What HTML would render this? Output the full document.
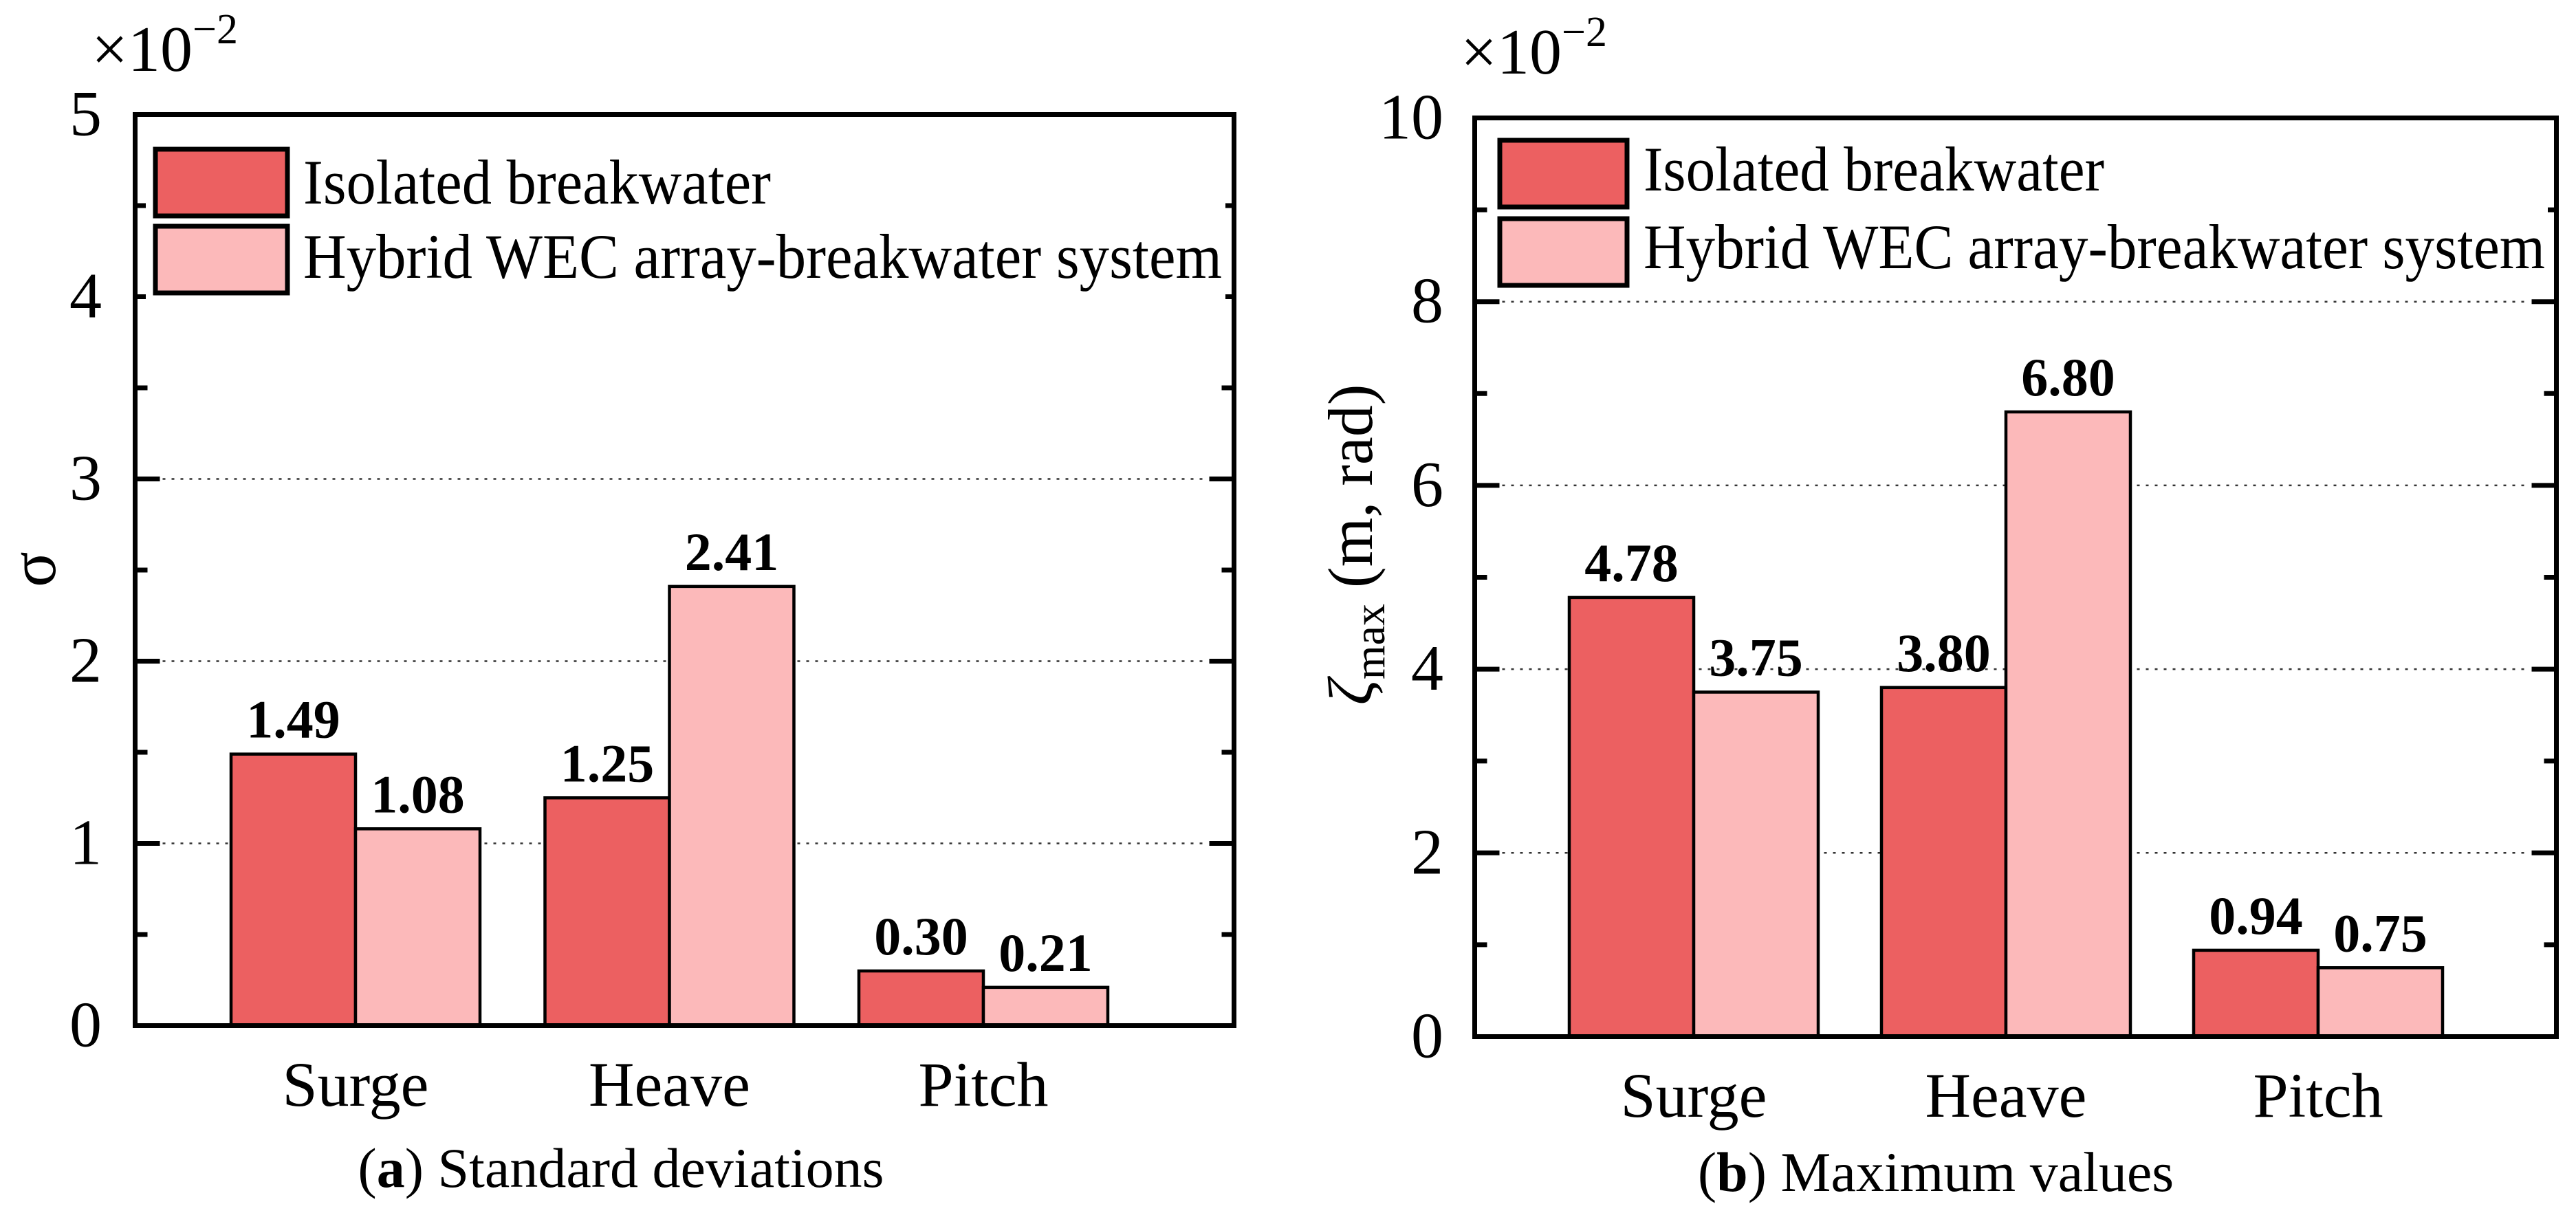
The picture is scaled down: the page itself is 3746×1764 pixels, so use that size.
<!DOCTYPE html>
<html><head><meta charset="utf-8"><style>
html,body{margin:0;padding:0;background:#fff;}
svg{display:block;}
text{font-family:"Liberation Serif","DejaVu Serif",serif;fill:#000;}
</style></head>
<body>
<svg id="fig" width="3746" height="1764" viewBox="0 0 3746 1764" xmlns="http://www.w3.org/2000/svg">
<g id="chartA"></g>
<g id="chartB"></g>
</svg>
<script>
const categories = ["Surge", "Heave", "Pitch"];
const seriesNames = ["Isolated breakwater", "Hybrid WEC array-breakwater system"];
const stdIsolated = [1.49, 1.25, 0.30];
const stdHybrid = [1.08, 2.41, 0.21];
const maxIsolated = [4.78, 3.80, 0.94];
const maxHybrid = [3.75, 6.80, 0.75];
const stdTicks = [0, 1, 2, 3, 4, 5];
const maxTicks = [0, 2, 4, 6, 8, 10];

const NS = "http://www.w3.org/2000/svg";
const RED = "#EC6061", PINK = "#FCB9BA";
function mk(parent, tag, attrs, txt) {
  const e = document.createElementNS(NS, tag);
  for (const k in attrs) e.setAttribute(k, attrs[k]);
  if (txt !== undefined) e.textContent = txt;
  parent.appendChild(e);
  return e;
}

function drawChart(g, cfg) {
  const L = cfg.left, R = cfg.right, T = cfg.top, B = cfg.bottom;
  const yv = v => B - (v - cfg.yMin) / (cfg.yMax - cfg.yMin) * (B - T);
  const xc = i => cfg.c0 + i * cfg.step;
  cfg.ticks.forEach(t => {
    if (t <= cfg.yMin || t >= cfg.yMax) return;
    const gl = mk(g, "line", {x1: L + 40, x2: R - 40, y1: yv(t), y2: yv(t), stroke: "#333", "stroke-width": 2.5, "stroke-dasharray": "4 9"});
    
    
  });
  const minorStep = cfg.minorStep;
  for (let v = cfg.yMin; v <= cfg.yMax + 1e-9; v += minorStep) {
    const major = cfg.ticks.some(t => Math.abs(t - v) < 1e-9);
    const len = major ? 36 : 18;
    const y = yv(v);
    const t1 = mk(g, "line", {x1: L, x2: L + len, y1: y, y2: y, stroke: "#000", "stroke-width": 7});
    
    
    const t2 = mk(g, "line", {x1: R - len, x2: R, y1: y, y2: y, stroke: "#000", "stroke-width": 7});
    
    
  }
  cfg.ticks.forEach(t => {
    const tl = mk(g, "text", {x: cfg.tickRight, y: yv(t) + 30, "font-size": 94, "text-anchor": "end"}, String(t));
    
    
  });
  const series = [cfg.s1, cfg.s2];
  const fills = [RED, PINK];
  const bw = cfg.bw;
  categories.forEach((c, i) => {
    series.forEach((s, k) => {
      const x0 = k === 0 ? xc(i) - bw : xc(i);
      const y0 = yv(s[i]);
      const bar = mk(g, "rect", {x: x0, y: y0, width: bw, height: yv(0) - y0, fill: fills[k], stroke: "#000", "stroke-width": 4.5});
      
      
      const vl = mk(g, "text", {x: x0 + bw / 2, y: y0 - 24, "font-size": 78, "font-weight": "bold", "text-anchor": "middle"}, s[i].toFixed(2));
      
      
    });
    const cl = mk(g, "text", {x: xc(i), y: cfg.catY, "font-size": 92, "text-anchor": "middle"}, c);
    
    
  });
  const lg = mk(g, "g", {});
  
  
  const bg = mk(lg, "rect", {x: cfg.legBg[0], y: cfg.legBg[1], width: cfg.legBg[2], height: cfg.legBg[3], fill: "#fff"});
  
  
  cfg.legRects.forEach((r, k) => {
    const sw = mk(lg, "rect", {x: r[0], y: r[1], width: r[2], height: r[3], fill: fills[k], stroke: "#000", "stroke-width": 7});
    
    
    const lt = mk(lg, "text", {x: cfg.legTextX, y: cfg.legBase[k], "font-size": 92, textLength: cfg.legLen[k], lengthAdjust: "spacingAndGlyphs"}, seriesNames[k]);
    
    
  });
  const fr = mk(g, "rect", {x: L, y: T, width: R - L, height: B - T, fill: "none", stroke: "#000", "stroke-width": 7});
  
  
  const mt = mk(g, "text", {x: cfg.multX, y: cfg.multY, "font-size": 94});
  
  
  mk(mt, "tspan", {}, "×10");
  mk(mt, "tspan", {dy: -40, "font-size": 62}, "−2");
  const cap = mk(g, "text", {x: cfg.capX, y: cfg.capY, "font-size": 82, "text-anchor": "middle"});
  
  
  mk(cap, "tspan", {}, "(");
  mk(cap, "tspan", {"font-weight": "bold"}, cfg.capLetter);
  mk(cap, "tspan", {}, ") " + cfg.capText);
}

const gA = document.getElementById("chartA");
drawChart(gA, {left: 196.5, right: 1794.5, top: 166.5, bottom: 1491.5, yMin: 0, yMax: 5,
  ticks: stdTicks, minorStep: 0.5, tickRight: 148, c0: 517, step: 456.5, bw: 181,
  s1: stdIsolated, s2: stdHybrid, catY: 1608,
  legBg: [212, 205, 1570, 242],
  legRects: [[226, 217, 192, 97], [226, 329, 192, 97]], legTextX: 441, legBase: [296, 404], legLen: [680, 1336],
  multX: 133, multY: 103, capX: 903, capY: 1726, capLetter: "a", capText: "Standard deviations"});
const yt = mk(gA, "text", {x: 0, y: 0, "font-size": 96, "text-anchor": "middle", transform: "translate(80,828) rotate(-90)"}, "σ");



const gB = document.getElementById("chartB");
drawChart(gB, {left: 2144.5, right: 3717.5, top: 171.5, bottom: 1507.5, yMin: 0, yMax: 10,
  ticks: maxTicks, minorStep: 1, tickRight: 2099, c0: 2463, step: 454, bw: 181,
  s1: maxIsolated, s2: maxHybrid, catY: 1624,
  legBg: [2165, 192, 1540, 232],
  legRects: [[2181, 204, 185, 97], [2181, 318, 185, 97]], legTextX: 2390, legBase: [277, 390], legLen: [670, 1311],
  multX: 2124, multY: 107, capX: 2815, capY: 1732, capLetter: "b", capText: "Maximum values"});
const yt2 = mk(gB, "text", {x: 0, y: 0, "font-size": 92, "text-anchor": "middle", transform: "translate(1995,792) rotate(-90)"});


mk(yt2, "tspan", {"font-style": "italic"}, "ζ");
mk(yt2, "tspan", {"font-size": 64, dy: 18}, "max");
mk(yt2, "tspan", {dy: -18}, " (m, rad)");
</script>
</body></html>
